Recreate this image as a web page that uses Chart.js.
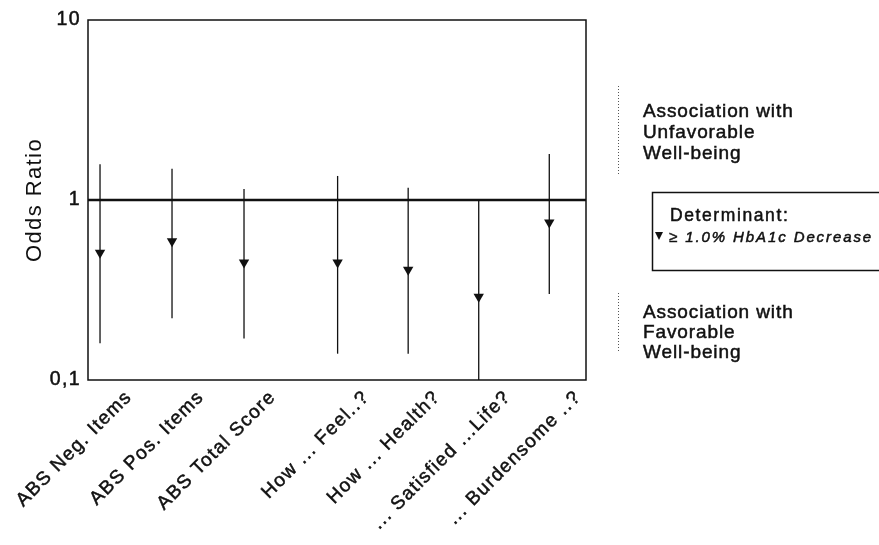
<!DOCTYPE html>
<html>
<head>
<meta charset="utf-8">
<script src="https://cdn.jsdelivr.net/npm/chart.js@4/dist/chart.umd.min.js"></script>
<style>
  html, body { margin: 0; padding: 0; background: #fff; }
  #wrap { width: 879px; height: 545px; }
</style>
</head>
<body>
<div id="wrap"><canvas id="orChart" width="879" height="545"></canvas></div>
<script>
const categories = ["ABS Neg. Items", "ABS Pos. Items", "ABS Total Score", "How ... Feel..?", "How ... Health?", "... Satisfied ...Life?", "... Burdensome ..?"];
// slot of each item on the x axis (the single questions sit after a small gap)
const slots = [1, 2, 3, 4.3, 5.28, 6.26, 7.24];
const oddsRatio = [0.51, 0.59, 0.45, 0.45, 0.41, 0.29, 0.75];
const ciLower = [0.16, 0.22, 0.17, 0.14, 0.14, 0.10, 0.30];
const ciUpper = [1.58, 1.49, 1.15, 1.36, 1.17, 1.00, 1.80];
const yTicks = [0.1, 1, 10];
const legendTitle = "Determinant:";
const legendItem = "≥ 1.0% HbA1c Decrease";
const noteUp = ["Association with", "Unfavorable", "Well-being"];
const noteDown = ["Association with", "Favorable", "Well-being"];

const FONT = "'Liberation Sans', Arial, Helvetica, sans-serif";
const INK = "#111";

const textSpacing = {
  id: "textSpacing",
  beforeDraw(chart) {
    chart.ctx.letterSpacing = "1.4px";
  }
};

const frameAndBars = {
  id: "frameAndBars",
  beforeDatasetsDraw(chart) {
    const { ctx, chartArea: a, scales: { x, y } } = chart;
    ctx.save();
    ctx.strokeStyle = INK;
    ctx.lineWidth = 1.5;
    ctx.strokeRect(a.left, a.top, a.right - a.left, a.bottom - a.top);

    ctx.lineWidth = 2.5;
    const y1 = y.getPixelForValue(1);
    ctx.beginPath();
    ctx.moveTo(a.left, y1);
    ctx.lineTo(a.right, y1);
    ctx.stroke();

    ctx.lineWidth = 1.3;
    slots.forEach((s, i) => {
      const px = x.getPixelForValue(s);
      ctx.beginPath();
      ctx.moveTo(px, y.getPixelForValue(ciLower[i]));
      ctx.lineTo(px, y.getPixelForValue(ciUpper[i]));
      ctx.stroke();
    });
    ctx.restore();
  }
};

function inkText(ctx, s, x, y) {
  ctx.fillText(s, x, y);
  ctx.strokeText(s, x, y);
}

const sideNotes = {
  id: "sideNotes",
  afterDraw(chart) {
    const ctx = chart.ctx;
    ctx.save();
    ctx.fillStyle = INK;
    ctx.strokeStyle = "#555";
    ctx.textBaseline = "middle";
    ctx.textAlign = "left";

    // dotted markers
    ctx.lineWidth = 1;
    ctx.setLineDash([1, 2]);
    [[86, 176], [293, 352]].forEach(([t, b]) => {
      ctx.beginPath();
      ctx.moveTo(618.5, t);
      ctx.lineTo(618.5, b);
      ctx.stroke();
    });
    ctx.setLineDash([]);

    ctx.strokeStyle = INK;
    ctx.lineWidth = 0.5;
    ctx.letterSpacing = "0.9px";
    ctx.font = "19px " + FONT;
    noteUp.forEach((s, i) => inkText(ctx, s, 643, 112 + i * 21));
    noteDown.forEach((s, i) => inkText(ctx, s, 643, 313 + i * 20));

    ctx.letterSpacing = "1.6px";
    ctx.font = "17.5px " + FONT;
    inkText(ctx, legendTitle, 670, 216);

    ctx.beginPath();
    ctx.moveTo(655, 232);
    ctx.lineTo(663, 232);
    ctx.lineTo(659, 240);
    ctx.closePath();
    ctx.fill();

    ctx.letterSpacing = "1.9px";
    ctx.font = "italic 15px " + FONT;
    inkText(ctx, legendItem, 669, 238);

    // legend box
    ctx.lineWidth = 1.5;
    ctx.strokeRect(652.5, 192.5, 240, 78);
    ctx.restore();
  }
};

new Chart(document.getElementById("orChart"), {
  type: "scatter",
  data: {
    datasets: [{
      data: slots.map((s, i) => ({ x: s, y: oddsRatio[i] })),
      pointStyle: "triangle",
      rotation: 180,
      radius: 6,
      backgroundColor: INK,
      borderColor: INK,
      borderWidth: 0
    }]
  },
  options: {
    responsive: false,
    animation: false,
    events: [],
    layout: { padding: { left: 0, top: 20, right: 293, bottom: 0 } },
    plugins: { legend: { display: false }, tooltip: { enabled: false } },
    scales: {
      x: {
        type: "linear",
        min: 0.833,
        max: 7.75,
        grid: { display: false, drawTicks: false },
        border: { display: false },
        afterBuildTicks: (s) => { s.ticks = slots.map((v) => ({ value: v })); },
        afterFit: (s) => { s.height = 165; s.paddingLeft = 0; s.paddingRight = 0; },
        ticks: {
          autoSkip: false,
          minRotation: 45,
          maxRotation: 45,
          labelOffset: 29,
          padding: 6,
          color: INK,
          textStrokeColor: INK,
          textStrokeWidth: 0.5,
          font: { family: FONT, size: 19 },
          callback: (v, i) => categories[i]
        }
      },
      y: {
        type: "logarithmic",
        min: 0.1,
        max: 10,
        grid: { display: false, drawTicks: false },
        border: { display: false },
        afterBuildTicks: (s) => { s.ticks = yTicks.map((v) => ({ value: v })); },
        afterFit: (s) => { s.width = 88; s.paddingTop = 0; s.paddingBottom = 0; },
        ticks: {
          padding: 7,
          color: INK,
          textStrokeColor: INK,
          textStrokeWidth: 0.5,
          font: { family: FONT, size: 19.5 },
          callback: (v) => String(v).replace(".", ",")
        },
        title: {
          display: true,
          text: "Odds Ratio",
          color: INK,
          font: { family: FONT, size: 22 },
          padding: { top: 22, bottom: 0 }
        }
      }
    }
  },
  plugins: [textSpacing, frameAndBars, sideNotes]
});
</script>
</body>
</html>
